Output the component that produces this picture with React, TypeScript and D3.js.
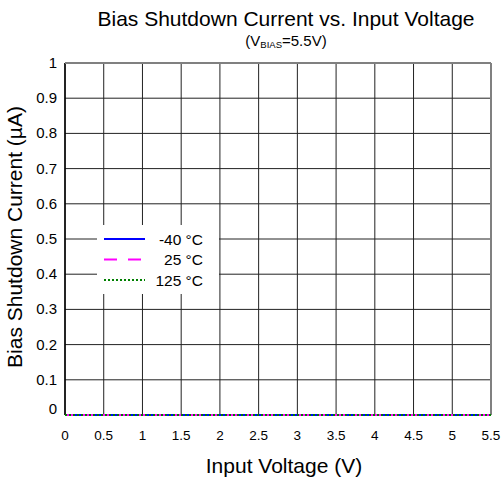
import React from "react";
import * as d3 from "d3";

const voltages = [0, 0.5, 1, 1.5, 2, 2.5, 3, 3.5, 4, 4.5, 5, 5.5];
const currentM40 = [0, 0, 0, 0, 0, 0, 0, 0, 0, 0, 0, 0];
const current25 = [0, 0, 0, 0, 0, 0, 0, 0, 0, 0, 0, 0];
const current125 = [0, 0, 0, 0, 0, 0, 0, 0, 0, 0, 0, 0];
const seriesNames = ["-40 °C", "25 °C", "125 °C"];
const xTicks = [0, 0.5, 1, 1.5, 2, 2.5, 3, 3.5, 4, 4.5, 5, 5.5];
const yTicks = [0, 0.1, 0.2, 0.3, 0.4, 0.5, 0.6, 0.7, 0.8, 0.9, 1];

const W = 503, H = 481;
const L = 65, R = 491, T = 63, B = 415;
const FONT = "'Liberation Sans', Arial, sans-serif";

export default function App() {
  const x = d3.scaleLinear().domain([0, 5.5]).range([L, R]);
  const y = d3.scaleLinear().domain([0, 1]).range([B, T]);
  const line = d3.line<[number, number]>().x(d => x(d[0])).y(d => y(d[1]));
  const series = [
    { name: seriesNames[0], vals: currentM40, color: "#0000ff", dash: undefined as string | undefined },
    { name: seriesNames[1], vals: current25, color: "#ff00ff", dash: "10,8" },
    { name: seriesNames[2], vals: current125, color: "#008000", dash: "2,2" },
  ];
  const lx = 97, ly = 225, lw = 122, lh = 69;
  return (
    <svg width={W} height={H} style={{ position: "absolute", left: 0, top: 0 }} fontFamily={FONT}>
      <rect width={W} height={H} fill="#fff" />
      {xTicks.map((t, i) => (
        <line key={"vx" + i} x1={x(t)} x2={x(t)} y1={T} y2={B} stroke={i === xTicks.length - 1 ? "#808080" : "#222"} strokeWidth={1} />
      ))}
      {yTicks.map((t, i) => (
        <line key={"hy" + i} x1={L} x2={R} y1={y(t)} y2={y(t)} stroke={i === yTicks.length - 1 ? "#808080" : "#222"} strokeWidth={1} />
      ))}
      <line x1={L} x2={L} y1={T} y2={B} stroke="#000" strokeWidth={1.5} />
      <line x1={L} x2={R} y1={B} y2={B} stroke="#000" strokeWidth={1.5} />
      <line x1={L} x2={R} y1={T} y2={T} stroke="#808080" strokeWidth={2} />
      <line x1={R} x2={R} y1={T} y2={B} stroke="#808080" strokeWidth={2} />
      {series.map((s, i) => (
        <path key={"s" + i} d={line(voltages.map((v, j) => [v, s.vals[j]]) as [number, number][]) || ""}
          fill="none" stroke={s.color} strokeWidth={2} strokeDasharray={s.dash} />
      ))}
      {yTicks.map((t, i) => (
        <text key={"yl" + i} x={L - 8} y={y(t) + (t === 0 ? -1 : 5)} textAnchor="end" fontSize={15} fill="#000">{String(t)}</text>
      ))}
      {xTicks.map((t, i) => (
        <text key={"xl" + i} x={x(t)} y={440} textAnchor="middle" fontSize={13.5} fill="#000">{String(t)}</text>
      ))}
      <rect x={lx} y={ly} width={lw} height={lh} fill="#fff" />
      {series.map((s, i) => (
        <g key={"lg" + i}>
          <line x1={104} x2={145} y1={239 + i * 20.5} y2={239 + i * 20.5} stroke={s.color} strokeWidth={2} strokeDasharray={s.dash === "10,8" ? "13,11" : s.dash} />
          <text x={203} y={244.5 + i * 20.5} textAnchor="end" fontSize={15.5} fill="#000">{s.name}</text>
        </g>
      ))}
      <text x={286} y={26} textAnchor="middle" fontSize={21} fill="#000">Bias Shutdown Current vs. Input Voltage</text>
      <text x={286} y={46} textAnchor="middle" fontSize={15} fill="#000">
        (V<tspan fontSize={9.5} dy={2}>BIAS</tspan><tspan dy={-2}>=5.5V)</tspan>
      </text>
      <text x={284} y={473} textAnchor="middle" fontSize={21} fill="#000">Input Voltage (V)</text>
      <text transform={`translate(22,237) rotate(-90)`} textAnchor="middle" fontSize={21} fill="#000">Bias Shutdown Current (µA)</text>
    </svg>
  );
}
